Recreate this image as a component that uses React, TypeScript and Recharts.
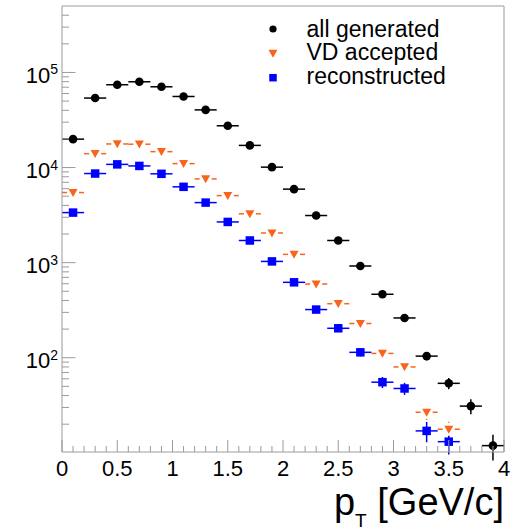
import React from 'react';
import { ScatterChart, Scatter, XAxis, YAxis, ErrorBar, ReferenceLine, Legend, Label } from 'recharts';

const binCenters = [0.1, 0.3, 0.5, 0.7, 0.9, 1.1, 1.3, 1.5, 1.7, 1.9, 2.1, 2.3, 2.5, 2.7, 2.9, 3.1, 3.3, 3.5, 3.7, 3.9];
const binHalfWidth = 0.1;

const allGenerated = [19900, 53800, 74300, 79800, 70700, 55900, 40400, 27500, 17100, 10100, 5930, 3130, 1710, 922, 465, 262, 104, 53.8, 31.0, 11.9];
const allGeneratedErr = [140, 230, 270, 280, 265, 235, 200, 165, 130, 100, 77, 56, 41, 30, 22, 16, 10, 7.3, 5.5, 3.6];

const vdAccepted = [5460, 14000, 17700, 17600, 14700, 11000, 7600, 5070, 3260, 2050, 1222, 596, 370, 229, 111, 80, 26.7, 17.7];
const vdAcceptedErr = [74, 118, 133, 133, 121, 105, 87, 71, 57, 45, 35, 24, 19, 15, 10.5, 9, 4.5, 3.5];

const reconstructed = [3360, 8650, 10800, 10400, 8590, 6270, 4280, 2680, 1710, 1030, 621, 321, 204, 114, 55.3, 47.5, 17.0, 13.1];
const reconstructedErr = [58, 93, 104, 102, 93, 79, 65, 52, 41, 32, 25, 18, 14, 10.7, 7.4, 6.9, 4.1, 3.5];

const seriesNames = ['all generated', 'VD accepted', 'reconstructed'];
const seriesColors = ['#000000', '#f8651a', '#0000ff'];

const xDomain = [0, 4];
const xMajorTicks = [0, 0.5, 1, 1.5, 2, 2.5, 3, 3.5, 4];
const xMinorCount = 40;
const yDomain = [10.2, 5e5];
const yDecades = [10, 100, 1000, 10000, 100000];
const yMinorMultipliers = [1, 2, 3, 4, 5, 6, 7, 8, 9];

const FONT = '"Liberation Sans", Arial, Helvetica, sans-serif';
const AXIS = '#9a9a9a';

const xTicks: number[] = [];
for (let i = 0; i <= xMinorCount; i++) xTicks.push(Math.round(i) / 10);
const yTicks: number[] = [];
yDecades.forEach((d) => yMinorMultipliers.forEach((m) => {
  const v = d * m;
  if (v >= yDomain[0] && v < yDomain[1]) yTicks.push(v);
}));

function toPoints(values: number[], errs: number[]) {
  return values.map((v, i) => ({ x: binCenters[i], y: v, ex: binHalfWidth, ey: errs[i] }));
}

const genData = toPoints(allGenerated, allGeneratedErr);
const vdData = toPoints(vdAccepted, vdAcceptedErr);
const recoData = toPoints(reconstructed, reconstructedErr);

const isMajorX = (v: number) => xMajorTicks.some((t) => Math.abs(t - v) < 1e-6);

const XTick = (props: any) => {
  const { x, y, payload } = props;
  const v = payload.value;
  const major = isMajorX(v);
  return (
    <g>
      <line x1={x} x2={x} y1={y} y2={y - (major ? 12 : 6)} stroke={AXIS} strokeWidth={1} />
      {major && (
        <text x={x} y={y + 24} textAnchor="middle" fontFamily={FONT} fontSize={22} fill="#000">
          {String(Math.round(v * 10) / 10)}
        </text>
      )}
    </g>
  );
};

const YTick = (props: any) => {
  const { x, y, payload } = props;
  const v = payload.value;
  const e = Math.log10(v);
  const major = Math.abs(e - Math.round(e)) < 1e-9;
  return (
    <g>
      <line x1={x} x2={x + (major ? 13.5 : 7)} y1={y} y2={y} stroke={AXIS} strokeWidth={1} />
      {major && (
        <text x={x - 4} y={y + 10.5} textAnchor="end" fontFamily={FONT} fontSize={22} fill="#000">
          <tspan>10</tspan>
          <tspan dy={-8.5} fontSize={14}>{Math.round(e)}</tspan>
        </text>
      )}
    </g>
  );
};

const Circle = ({ cx, cy, color, r = 4.3 }: any) => <circle cx={cx} cy={cy} r={r} fill={color} />;
const Triangle = ({ cx, cy, color, gap = true }: any) => (
  <g>
    {gap && <rect x={cx - 6} y={cy - 1.5} width={12} height={3} fill="#fff" />}
    {gap && <rect x={cx - 1.5} y={cy - 6.5} width={3} height={13} fill="#fff" />}
    <polygon points={`${cx - 4.5},${cy - 3.6} ${cx + 4.5},${cy - 3.6} ${cx},${cy + 4.4}`} fill={color} />
  </g>
);
const Square = ({ cx, cy, color, s = 8.5 }: any) => <rect x={cx - s / 2} y={cy - s / 2} width={s} height={s} fill={color} />;

const legendBaselines = [36, 59.5, 83];
const legendMarkerYs = [29, 53.3, 77.7];
const LEGEND_FONT = 23;

const renderLegend = () => (
  <div style={{ position: 'relative', width: 0, height: 0 }}>
    <svg width={20} height={100} style={{ position: 'absolute', left: 263, top: 0 }}>
      <Circle cx={10} cy={legendMarkerYs[0]} color={seriesColors[0]} r={3.6} />
      <Triangle cx={10} cy={legendMarkerYs[1]} color={seriesColors[1]} gap={false} />
      <Square cx={10} cy={legendMarkerYs[2]} color={seriesColors[2]} s={7.5} />
    </svg>
    {seriesNames.map((name, i) => (
      <span
        key={name}
        style={{
          position: 'absolute', left: 306.5, top: legendBaselines[i] - 0.86 * LEGEND_FONT - 0.5 * (LEGEND_FONT * 1.0 - LEGEND_FONT * 1.117),
          display: 'block', height: LEGEND_FONT, fontFamily: FONT, fontSize: LEGEND_FONT,
          lineHeight: `${LEGEND_FONT}px`, whiteSpace: 'nowrap', color: '#000',
        }}
      >
        {name}
      </span>
    ))}
  </div>
);

const XTitle = (props: any) => {
  const vb = props.viewBox || { x: 62, y: 452, width: 442 };
  return (
    <text x={vb.x + vb.width} y={vb.y + 63} textAnchor="end" fontFamily={FONT} fontSize={38} fill="#000">
      <tspan>p</tspan>
      <tspan fontSize={19} dy={12}>T</tspan>
      <tspan dy={-12}> [GeV/c]</tspan>
    </text>
  );
};

export default function App() {
  return (
    <div style={{ position: 'absolute', left: 0, top: 0, background: '#fff' }}>
      <ScatterChart width={518} height={530} margin={{ top: 6, right: 14, bottom: 0, left: 0 }}>
        <XAxis
          type="number"
          dataKey="x"
          domain={xDomain}
          ticks={xTicks}
          interval={0}
          tickSize={0}
          tickMargin={0}
          tick={<XTick />}
          axisLine={{ stroke: AXIS }}
          height={78}
          allowDataOverflow
        >
          <Label content={<XTitle />} />
        </XAxis>
        <YAxis
          type="number"
          dataKey="y"
          scale="log"
          domain={yDomain}
          ticks={yTicks}
          interval={0}
          tickSize={0}
          tickMargin={0}
          tick={<YTick />}
          axisLine={{ stroke: AXIS }}
          width={62}
          allowDataOverflow
        />
        <ReferenceLine x={4} stroke={AXIS} ifOverflow="visible" />
        <ReferenceLine y={5e5} stroke={AXIS} ifOverflow="visible" />
        <Legend
          content={renderLegend}
          layout="horizontal"
          verticalAlign="middle"
          align="center"
          wrapperStyle={{ left: 0, top: 0, width: 0, height: 0 }}
        />
        <Scatter
          name={seriesNames[0]}
          data={genData}
          isAnimationActive={false}
          shape={(p: any) => <Circle cx={p.cx} cy={p.cy} color={seriesColors[0]} />}
        >
          <ErrorBar dataKey="ex" direction="x" width={0} stroke={seriesColors[0]} strokeWidth={1.5} />
          <ErrorBar dataKey="ey" direction="y" width={0} stroke={seriesColors[0]} strokeWidth={1.5} />
        </Scatter>
        <Scatter
          name={seriesNames[1]}
          data={vdData}
          isAnimationActive={false}
          shape={(p: any) => <Triangle cx={p.cx} cy={p.cy} color={seriesColors[1]} />}
        >
          <ErrorBar dataKey="ex" direction="x" width={0} stroke={seriesColors[1]} strokeWidth={1.5} />
          <ErrorBar dataKey="ey" direction="y" width={0} stroke={seriesColors[1]} strokeWidth={1.5} />
        </Scatter>
        <Scatter
          name={seriesNames[2]}
          data={recoData}
          isAnimationActive={false}
          shape={(p: any) => <Square cx={p.cx} cy={p.cy} color={seriesColors[2]} />}
        >
          <ErrorBar dataKey="ex" direction="x" width={0} stroke={seriesColors[2]} strokeWidth={1.5} />
          <ErrorBar dataKey="ey" direction="y" width={0} stroke={seriesColors[2]} strokeWidth={1.5} />
        </Scatter>
      </ScatterChart>
    </div>
  );
}
